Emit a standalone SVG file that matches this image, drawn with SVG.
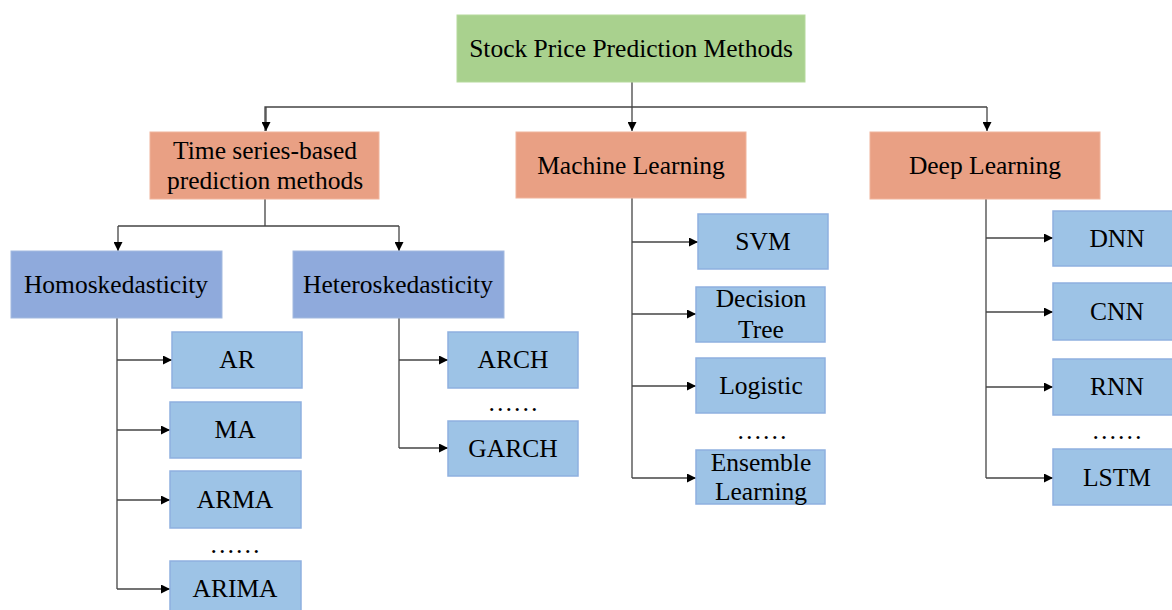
<svg xmlns="http://www.w3.org/2000/svg" width="1172" height="610" viewBox="0 0 1172 610">
<style>
text{font-family:"Liberation Serif","Times New Roman",serif;font-size:25.5px;fill:#000;text-anchor:middle}
.root{fill:#a9d18e;stroke:#b5d99c;stroke-width:1}
.cat{fill:#e9a084;stroke:#f0b49c;stroke-width:1}
.sub{fill:#8faadc;stroke:#a3badf;stroke-width:1}
.leaf{fill:#9dc3e6;stroke:#8eb0df;stroke-width:1.5}
.ln{fill:none;stroke:#444;stroke-width:1.3}
.ar{marker-end:url(#ah)}
</style>
<defs>
<marker id="ah" viewBox="0 0 10 10" refX="10" refY="5" markerWidth="9" markerHeight="9" markerUnits="userSpaceOnUse" orient="auto">
<path d="M0,0 L10,5 L0,10 z" fill="#000"/>
</marker>
</defs>
<rect width="1172" height="610" fill="#fff"/>
<g id="connectors">
<path class="ln" d="M265,131 V107 H987"/>
<path class="ln ar" d="M266,107 V131"/>
<path class="ln ar" d="M632,82 V131"/>
<path class="ln ar" d="M987,107 V131"/>
<path class="ln" d="M265,199 V226 M118,226 H399"/>
<path class="ln ar" d="M118,226 V251"/>
<path class="ln ar" d="M399,226 V251"/>
<path class="ln" d="M117,318 V589"/>
<path class="ln ar" d="M117,360 H172"/>
<path class="ln ar" d="M117,430 H170"/>
<path class="ln ar" d="M117,500 H170"/>
<path class="ln ar" d="M117,589 H170"/>
<path class="ln" d="M399,318 V448"/>
<path class="ln ar" d="M399,360 H448"/>
<path class="ln ar" d="M399,448 H448"/>
<path class="ln" d="M632,198 V478"/>
<path class="ln ar" d="M632,242 H698"/>
<path class="ln ar" d="M632,314 H696"/>
<path class="ln ar" d="M632,386 H696"/>
<path class="ln ar" d="M632,478 H696"/>
<path class="ln" d="M986,199 V478"/>
<path class="ln ar" d="M986,238 H1053"/>
<path class="ln ar" d="M986,312 H1053"/>
<path class="ln ar" d="M986,387 H1053"/>
<path class="ln ar" d="M986,478 H1053"/>
</g>
<g id="root"><rect class="root" x="457" y="15" width="348" height="67"/><text x="631" y="57">Stock Price Prediction Methods</text></g>
<g id="timeseries"><rect class="cat" x="150" y="132" width="229" height="67"/><text x="265" y="159">Time series-based</text><text x="265" y="189">prediction methods</text></g>
<g id="ml"><rect class="cat" x="516" y="132" width="230" height="66"/><text x="631" y="174">Machine Learning</text></g>
<g id="dl"><rect class="cat" x="870" y="132" width="230" height="67"/><text x="985" y="174">Deep Learning</text></g>
<g id="homo"><rect class="sub" x="11" y="251" width="211" height="67"/><text x="116" y="293">Homoskedasticity</text></g>
<g id="hetero"><rect class="sub" x="293" y="251" width="211" height="67"/><text x="398" y="293">Heteroskedasticity</text></g>
<g id="ar"><rect class="leaf" x="172" y="332" width="130" height="56"/><text x="237" y="368">AR</text></g>
<g id="ma"><rect class="leaf" x="170" y="402" width="131" height="56"/><text x="235" y="438">MA</text></g>
<g id="arma"><rect class="leaf" x="170" y="471" width="131" height="57"/><text x="235" y="508">ARMA</text></g>
<text x="235" y="553">……</text>
<g id="arima"><rect class="leaf" x="170" y="561" width="131" height="56"/><text x="235" y="597">ARIMA</text></g>
<g id="arch"><rect class="leaf" x="448" y="332" width="130" height="56"/><text x="513" y="368">ARCH</text></g>
<text x="513" y="411">……</text>
<g id="garch"><rect class="leaf" x="448" y="421" width="130" height="55"/><text x="513" y="457">GARCH</text></g>
<g id="svm"><rect class="leaf" x="698" y="214" width="130" height="55"/><text x="763" y="250">SVM</text></g>
<g id="dt"><rect class="leaf" x="696" y="287" width="129" height="55"/><text x="761" y="307">Decision</text><text x="761" y="338">Tree</text></g>
<g id="logistic"><rect class="leaf" x="696" y="358" width="129" height="55"/><text x="761" y="394">Logistic</text></g>
<text x="762" y="439">……</text>
<g id="ensemble"><rect class="leaf" x="696" y="450" width="129" height="54"/><text x="761" y="471">Ensemble</text><text x="761" y="500">Learning</text></g>
<g id="dnn"><rect class="leaf" x="1053" y="211" width="130" height="55"/><text x="1117" y="247">DNN</text></g>
<g id="cnn"><rect class="leaf" x="1053" y="283" width="130" height="57"/><text x="1117" y="320">CNN</text></g>
<g id="rnn"><rect class="leaf" x="1053" y="359" width="130" height="56"/><text x="1117" y="395">RNN</text></g>
<text x="1117" y="439">……</text>
<g id="lstm"><rect class="leaf" x="1053" y="449" width="130" height="56"/><text x="1117" y="486">LSTM</text></g>
</svg>
